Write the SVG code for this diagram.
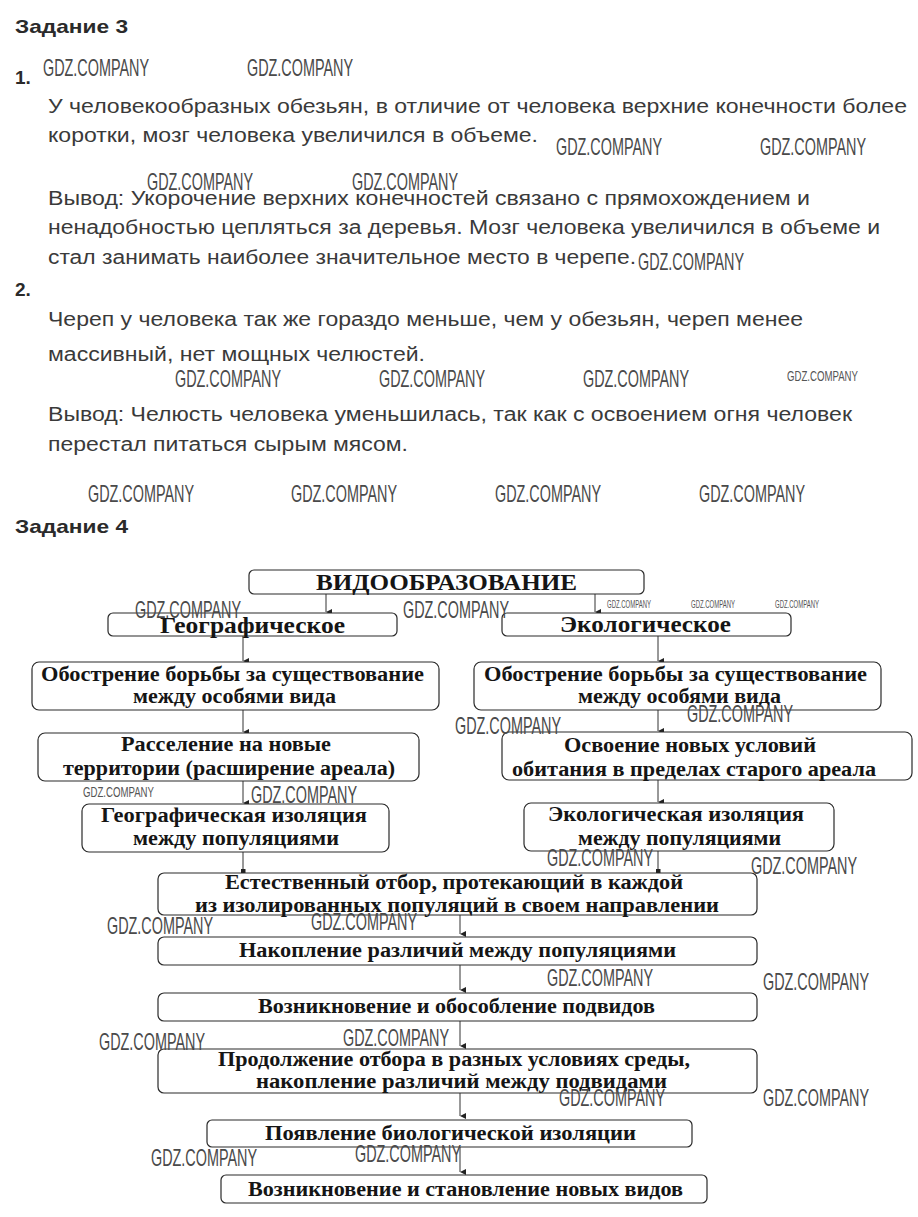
<svg xmlns="http://www.w3.org/2000/svg" width="918" height="1217" viewBox="0 0 918 1217">
<style>
.h{font-family:"Liberation Sans",Arial,sans-serif;font-weight:bold;font-size:19px;fill:#2a2a2a}
.p{font-family:"Liberation Sans",Arial,sans-serif;font-size:20px;fill:#3a3a3a}
.wm{font-family:"Liberation Sans",Arial,sans-serif;font-size:24px;fill:#4a4a4a}
.ws{font-family:"Liberation Sans",Arial,sans-serif;font-size:11px;fill:#555}
.wm2{font-family:"Liberation Sans",Arial,sans-serif;font-size:15px;fill:#555}
.box{fill:#fff;stroke:#2a2a2a;stroke-width:1.2}
.t{font-family:"Liberation Serif","Times New Roman",serif;font-weight:bold;font-size:20px;fill:#151515}
.big{font-size:23px}
.c{stroke:#333;stroke-width:1;fill:none}
</style>
<defs>
<marker id="ah" markerWidth="8" markerHeight="8" refX="4" refY="7" orient="auto-start-reverse" markerUnits="userSpaceOnUse" viewBox="0 0 8 8">
<path d="M1,1 L7,1 L4,7 Z" fill="#222"/>
</marker>
<marker id="sq" markerWidth="5" markerHeight="5" refX="2.5" refY="4" markerUnits="userSpaceOnUse" viewBox="0 0 5 5">
<rect x="0" y="0" width="5" height="5" fill="#222"/>
</marker>
</defs>
<rect width="918" height="1217" fill="#fff"/>

<g id="text-block">
<text class="h" x="15" y="33" textLength="113" lengthAdjust="spacingAndGlyphs">Задание 3</text>
<text class="h" x="15" y="84">1.</text>
<text class="p" x="48" y="113" textLength="859" lengthAdjust="spacingAndGlyphs">У человекообразных обезьян, в отличие от человека верхние конечности более</text>
<text class="p" x="48" y="142" textLength="490" lengthAdjust="spacingAndGlyphs">коротки, мозг человека увеличился в объеме.</text>
<text class="p" x="48" y="205" textLength="762" lengthAdjust="spacingAndGlyphs">Вывод: Укорочение верхних конечностей связано с прямохождением и</text>
<text class="p" x="48" y="234" textLength="832" lengthAdjust="spacingAndGlyphs">ненадобностью цепляться за деревья. Мозг человека увеличился в объеме и</text>
<text class="p" x="48" y="264" textLength="588" lengthAdjust="spacingAndGlyphs">стал занимать наиболее значительное место в черепе.</text>
<text class="h" x="15" y="296">2.</text>
<text class="p" x="48" y="326" textLength="755" lengthAdjust="spacingAndGlyphs">Череп у человека так же гораздо меньше, чем у обезьян, череп менее</text>
<text class="p" x="48" y="361" textLength="377" lengthAdjust="spacingAndGlyphs">массивный, нет мощных челюстей.</text>
<text class="p" x="48" y="421" textLength="804" lengthAdjust="spacingAndGlyphs">Вывод: Челюсть человека уменьшилась, так как с освоением огня человек</text>
<text class="p" x="48" y="451" textLength="360" lengthAdjust="spacingAndGlyphs">перестал питаться сырым мясом.</text>
<text class="h" x="15" y="533" textLength="113" lengthAdjust="spacingAndGlyphs">Задание 4</text>
</g>

<g id="connectors">
<line class="c" x1="326" y1="594" x2="326" y2="612" marker-end="url(#ah)"/>
<line class="c" x1="595" y1="594" x2="595" y2="612" marker-end="url(#ah)"/>
<line class="c" x1="243" y1="636" x2="243" y2="661" marker-end="url(#ah)"/>
<line class="c" x1="658" y1="636" x2="658" y2="661" marker-end="url(#ah)"/>
<line class="c" x1="243" y1="710" x2="243" y2="732" marker-end="url(#ah)"/>
<line class="c" x1="658" y1="710" x2="658" y2="731" marker-end="url(#ah)"/>
<line class="c" x1="243" y1="781" x2="243" y2="803" marker-end="url(#ah)"/>
<line class="c" x1="658" y1="780" x2="658" y2="802" marker-end="url(#ah)"/>
<line class="c" x1="243" y1="852" x2="243" y2="873" marker-end="url(#sq)"/>
<line class="c" x1="658" y1="851" x2="658" y2="873" marker-end="url(#sq)"/>
<line class="c" x1="460" y1="915" x2="460" y2="934" marker-end="url(#ah)"/>
<line class="c" x1="460" y1="965" x2="460" y2="990" marker-end="url(#ah)"/>
<line class="c" x1="460" y1="1021" x2="460" y2="1046" marker-end="url(#ah)"/>
<line class="c" x1="460" y1="1093" x2="460" y2="1116" marker-end="url(#ah)"/>
<line class="c" x1="460" y1="1147" x2="460" y2="1172" marker-end="url(#ah)"/>
</g>

<g id="n-vidoobrazovanie">
<rect class="box" x="249" y="570" width="395" height="24" rx="5"/>
<text class="t big" x="316" y="590" textLength="261" lengthAdjust="spacingAndGlyphs">ВИДООБРАЗОВАНИЕ</text>
</g>
<g id="n-geograficheskoe">
<rect class="box" x="108" y="613" width="289" height="23" rx="5"/>
<text class="t big" x="160" y="633" textLength="185" lengthAdjust="spacingAndGlyphs">Географическое</text>
</g>
<g id="n-ekologicheskoe">
<rect class="box" x="502" y="613" width="289" height="23" rx="5"/>
<text class="t big" x="560" y="632" textLength="171" lengthAdjust="spacingAndGlyphs">Экологическое</text>
</g>
<g id="n-obostrenie-left">
<rect class="box" x="32" y="662" width="407" height="48" rx="7"/>
<text class="t" x="41" y="681" textLength="383" lengthAdjust="spacingAndGlyphs">Обострение борьбы за существование</text>
<text class="t" x="133" y="703" textLength="203" lengthAdjust="spacingAndGlyphs">между особями вида</text>
</g>
<g id="n-obostrenie-right">
<rect class="box" x="474" y="662" width="407" height="48" rx="7"/>
<text class="t" x="484" y="681" textLength="383" lengthAdjust="spacingAndGlyphs">Обострение борьбы за существование</text>
<text class="t" x="578" y="703" textLength="203" lengthAdjust="spacingAndGlyphs">между особями вида</text>
</g>
<g id="n-rasselenie">
<rect class="box" x="38" y="733" width="381" height="48" rx="7"/>
<text class="t" x="121" y="751" textLength="210" lengthAdjust="spacingAndGlyphs">Расселение на новые</text>
<text class="t" x="63" y="775" textLength="332" lengthAdjust="spacingAndGlyphs">территории (расширение ареала)</text>
</g>
<g id="n-osvoenie">
<rect class="box" x="502" y="732" width="410" height="48" rx="7"/>
<text class="t" x="564" y="752" textLength="252" lengthAdjust="spacingAndGlyphs">Освоение новых условий</text>
<text class="t" x="512" y="776" textLength="364" lengthAdjust="spacingAndGlyphs">обитания в пределах старого ареала</text>
</g>
<g id="n-geo-izolyaciya">
<rect class="box" x="82" y="804" width="307" height="48" rx="7"/>
<text class="t" x="101" y="822" textLength="266" lengthAdjust="spacingAndGlyphs">Географическая изоляция</text>
<text class="t" x="133" y="845" textLength="206" lengthAdjust="spacingAndGlyphs">между популяциями</text>
</g>
<g id="n-eko-izolyaciya">
<rect class="box" x="524" y="803" width="310" height="48" rx="7"/>
<text class="t" x="548" y="821" textLength="256" lengthAdjust="spacingAndGlyphs">Экологическая изоляция</text>
<text class="t" x="578" y="845" textLength="203" lengthAdjust="spacingAndGlyphs">между популяциями</text>
</g>
<g id="n-estestvenny-otbor">
<rect class="box" x="158" y="873" width="599" height="42" rx="6"/>
<text class="t" x="225" y="889" textLength="458" lengthAdjust="spacingAndGlyphs">Естественный отбор, протекающий в каждой</text>
<text class="t" x="195" y="912" textLength="524" lengthAdjust="spacingAndGlyphs">из изолированных популяций в своем направлении</text>
</g>
<g id="n-nakoplenie">
<rect class="box" x="158" y="937" width="599" height="28" rx="6"/>
<text class="t" x="239" y="957" textLength="437" lengthAdjust="spacingAndGlyphs">Накопление различий между популяциями</text>
</g>
<g id="n-podvidy">
<rect class="box" x="158" y="993" width="599" height="28" rx="6"/>
<text class="t" x="258" y="1013" textLength="397" lengthAdjust="spacingAndGlyphs">Возникновение и обособление подвидов</text>
</g>
<g id="n-prodolzhenie">
<rect class="box" x="158" y="1049" width="599" height="44" rx="6"/>
<text class="t" x="218" y="1066" textLength="472" lengthAdjust="spacingAndGlyphs">Продолжение отбора в разных условиях среды,</text>
<text class="t" x="256" y="1088" textLength="411" lengthAdjust="spacingAndGlyphs">накопление различий между подвидами</text>
</g>
<g id="n-bio-izolyaciya">
<rect class="box" x="207" y="1120" width="485" height="27" rx="5"/>
<text class="t" x="265" y="1140" textLength="371" lengthAdjust="spacingAndGlyphs">Появление биологической изоляции</text>
</g>
<g id="n-novye-vidy">
<rect class="box" x="221" y="1175" width="486" height="28" rx="5"/>
<text class="t" x="248" y="1196" textLength="435" lengthAdjust="spacingAndGlyphs">Возникновение и становление новых видов</text>
</g>

<g id="watermarks">
<text class="wm" x="43" y="76" textLength="106" lengthAdjust="spacingAndGlyphs">GDZ.COMPANY</text>
<text class="wm" x="247" y="76" textLength="106" lengthAdjust="spacingAndGlyphs">GDZ.COMPANY</text>
<text class="wm" x="556" y="155" textLength="106" lengthAdjust="spacingAndGlyphs">GDZ.COMPANY</text>
<text class="wm" x="760" y="155" textLength="106" lengthAdjust="spacingAndGlyphs">GDZ.COMPANY</text>
<text class="wm" x="147" y="190" textLength="106" lengthAdjust="spacingAndGlyphs">GDZ.COMPANY</text>
<text class="wm" x="352" y="190" textLength="106" lengthAdjust="spacingAndGlyphs">GDZ.COMPANY</text>
<text class="wm" x="638" y="270" textLength="106" lengthAdjust="spacingAndGlyphs">GDZ.COMPANY</text>
<text class="wm" x="175" y="387" textLength="106" lengthAdjust="spacingAndGlyphs">GDZ.COMPANY</text>
<text class="wm" x="379" y="387" textLength="106" lengthAdjust="spacingAndGlyphs">GDZ.COMPANY</text>
<text class="wm" x="583" y="387" textLength="106" lengthAdjust="spacingAndGlyphs">GDZ.COMPANY</text>
<text class="wm2" x="787" y="381" textLength="71" lengthAdjust="spacingAndGlyphs">GDZ.COMPANY</text>
<text class="wm" x="88" y="502" textLength="106" lengthAdjust="spacingAndGlyphs">GDZ.COMPANY</text>
<text class="wm" x="291" y="502" textLength="106" lengthAdjust="spacingAndGlyphs">GDZ.COMPANY</text>
<text class="wm" x="495" y="502" textLength="106" lengthAdjust="spacingAndGlyphs">GDZ.COMPANY</text>
<text class="wm" x="699" y="502" textLength="106" lengthAdjust="spacingAndGlyphs">GDZ.COMPANY</text>
<text class="wm" x="135" y="618" textLength="106" lengthAdjust="spacingAndGlyphs">GDZ.COMPANY</text>
<text class="wm" x="403" y="618" textLength="106" lengthAdjust="spacingAndGlyphs">GDZ.COMPANY</text>
<text class="ws" x="607" y="608" textLength="44" lengthAdjust="spacingAndGlyphs">GDZ.COMPANY</text>
<text class="ws" x="691" y="608" textLength="44" lengthAdjust="spacingAndGlyphs">GDZ.COMPANY</text>
<text class="ws" x="775" y="608" textLength="44" lengthAdjust="spacingAndGlyphs">GDZ.COMPANY</text>
<text class="wm" x="455" y="734" textLength="106" lengthAdjust="spacingAndGlyphs">GDZ.COMPANY</text>
<text class="wm" x="687" y="722" textLength="106" lengthAdjust="spacingAndGlyphs">GDZ.COMPANY</text>
<text class="wm2" x="83" y="797" textLength="71" lengthAdjust="spacingAndGlyphs">GDZ.COMPANY</text>
<text class="wm" x="251" y="803" textLength="106" lengthAdjust="spacingAndGlyphs">GDZ.COMPANY</text>
<text class="wm" x="547" y="866" textLength="106" lengthAdjust="spacingAndGlyphs">GDZ.COMPANY</text>
<text class="wm" x="751" y="874" textLength="106" lengthAdjust="spacingAndGlyphs">GDZ.COMPANY</text>
<text class="wm" x="107" y="934" textLength="106" lengthAdjust="spacingAndGlyphs">GDZ.COMPANY</text>
<text class="wm" x="311" y="930" textLength="106" lengthAdjust="spacingAndGlyphs">GDZ.COMPANY</text>
<text class="wm" x="547" y="986" textLength="106" lengthAdjust="spacingAndGlyphs">GDZ.COMPANY</text>
<text class="wm" x="763" y="990" textLength="106" lengthAdjust="spacingAndGlyphs">GDZ.COMPANY</text>
<text class="wm" x="99" y="1050" textLength="106" lengthAdjust="spacingAndGlyphs">GDZ.COMPANY</text>
<text class="wm" x="343" y="1046" textLength="106" lengthAdjust="spacingAndGlyphs">GDZ.COMPANY</text>
<text class="wm" x="559" y="1106" textLength="106" lengthAdjust="spacingAndGlyphs">GDZ.COMPANY</text>
<text class="wm" x="763" y="1106" textLength="106" lengthAdjust="spacingAndGlyphs">GDZ.COMPANY</text>
<text class="wm" x="151" y="1166" textLength="106" lengthAdjust="spacingAndGlyphs">GDZ.COMPANY</text>
<text class="wm" x="355" y="1162" textLength="106" lengthAdjust="spacingAndGlyphs">GDZ.COMPANY</text>
</g>
</svg>
